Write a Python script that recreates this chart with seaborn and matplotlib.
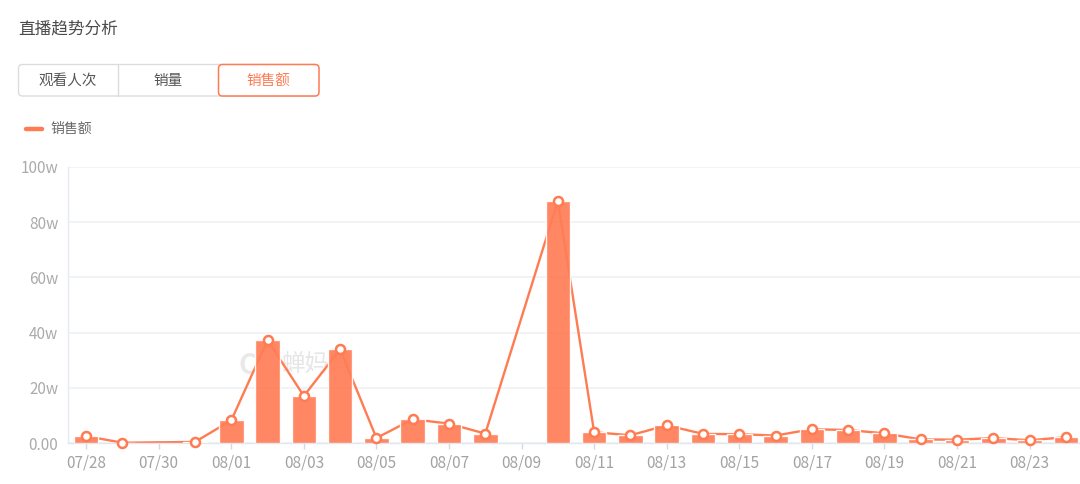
import numpy as np
import pandas as pd
import matplotlib
matplotlib.use("Agg")
import matplotlib.pyplot as plt
from matplotlib.patches import FancyBboxPatch
import seaborn as sns

# ---------------- data ----------------
dates = ["07/28", "07/29", "07/30", "07/31", "08/01", "08/02", "08/03", "08/04",
         "08/05", "08/06", "08/07", "08/08", "08/09", "08/10", "08/11", "08/12",
         "08/13", "08/14", "08/15", "08/16", "08/17", "08/18", "08/19", "08/20",
         "08/21", "08/22", "08/23", "08/24"]
sales_w = [2.6, 0.2, np.nan, 0.5, 8.3, 37.3, 17.1, 34.0,
           1.9, 8.7, 7.1, 3.5, np.nan, 87.6, 4.0, 2.9,
           6.5, 3.4, 3.3, 2.8, 5.1, 4.8, 3.6, 1.4,
           1.3, 1.9, 1.1, 2.2]
y_ticks = [0, 20, 40, 60, 80, 100]
y_tick_labels = ["0.00", "20w", "40w", "60w", "80w", "100w"]
tabs = ["观看人次", "销量", "销售额"]
title = "直播趋势分析"
legend_label = "销售额"
watermark = "蝉妈妈"

# ---------------- style ----------------
sns.set_theme(style="white")
plt.rcParams["font.family"] = ["Noto Sans CJK SC", "DejaVu Sans"]
ORANGE = "#FF7B52"
BAR = "#FF7E57"

W, H = 1080, 484
fig = plt.figure(figsize=(W / 100, H / 100), dpi=100)

# main axes in pixel geometry
left_px, right_px, top_px, bottom_px = 68, 1084, 166.7, 443.3
ax = fig.add_axes([left_px / W, 1 - bottom_px / H,
                   (right_px - left_px) / W, (bottom_px - top_px) / H])

df = pd.DataFrame({"date": dates, "sales": sales_w})
df["pos"] = np.arange(len(df))

sns.barplot(data=df, x="date", y="sales", order=dates, color=BAR, width=0.68,
            saturation=1, alpha=0.93, ax=ax, zorder=3, errorbar=None)
line_df = df.dropna()
sns.lineplot(data=line_df, x="pos", y="sales", color=ORANGE, lw=1.7, ax=ax,
             zorder=2, sort=False)
ax.plot(line_df["pos"], line_df["sales"], ls="none", marker="o", ms=6.5,
        mfc="white", mec=ORANGE, mew=1.8, zorder=5, clip_on=False)

ax.set_xlim(-0.5, len(dates) - 0.5)
ax.set_ylim(0, 100)
ax.set_yticks(y_ticks)
ax.set_yticklabels(y_tick_labels)
tick_idx = list(range(0, len(dates), 2))
ax.set_xticks(tick_idx)
ax.set_xticklabels([dates[i] for i in tick_idx])
ax.set_xlabel("")
ax.set_ylabel("")
ax.grid(axis="y", color="#EEF0F5", lw=1.1, zorder=0)
ax.set_axisbelow(True)
for s in ["top", "right"]:
    ax.spines[s].set_visible(False)
ax.spines["left"].set_color("#E6EAF2")
ax.spines["bottom"].set_color("#E1E6EF")
ax.spines["left"].set_linewidth(1.0)
ax.spines["bottom"].set_linewidth(1.0)
ax.tick_params(axis="y", length=0, pad=7, labelsize=11, labelcolor="#ABABAB")
ax.tick_params(axis="x", length=4, width=1, color="#D3D9E4", pad=4,
               labelsize=11, labelcolor="#A3A3A3", bottom=True)

# overlay axes in pixel coordinates for header elements
ov = fig.add_axes([0, 0, 1, 1], facecolor="none")
ov.set_xlim(0, W)
ov.set_ylim(H, 0)
ov.axis("off")

# watermark (behind bars)
ax.text(248, 366, "C", transform=ov.transData, fontsize=20, fontweight="bold",
        color="#E9E9E9", va="center", ha="center", zorder=1)
ax.text(281, 364, watermark, transform=ov.transData, fontsize=17, color="#E6E6E6",
        va="center", ha="left", zorder=1)

ov.text(18, 29, title, fontsize=12, color="#4A4A4A", va="center", ha="left")

# tabs
ov.add_patch(FancyBboxPatch((18.5, 64.5), 300, 31.5,
                            boxstyle="round,pad=0,rounding_size=4",
                            fc="white", ec="#DCDCE0", lw=1.0))
ov.plot([118, 118], [64.5, 96], color="#DCDCE0", lw=1.0)
ov.add_patch(FancyBboxPatch((218.5, 64.5), 100.5, 31.5,
                            boxstyle="round,pad=0,rounding_size=4",
                            fc="white", ec=ORANGE, lw=1.1))
tab_centers = [68, 168, 268.5]
for i, (t, cx) in enumerate(zip(tabs, tab_centers)):
    ov.text(cx, 80.5, t, fontsize=10.5, va="center", ha="center",
            color=ORANGE if i == 2 else "#555555")

# legend
ov.plot([26, 42], [128.5, 128.5], color=ORANGE, lw=3.2, solid_capstyle="round")
ov.text(50, 128.5, legend_label, fontsize=10, color="#666666", va="center", ha="left")

fig.savefig("out.png", dpi=100)
